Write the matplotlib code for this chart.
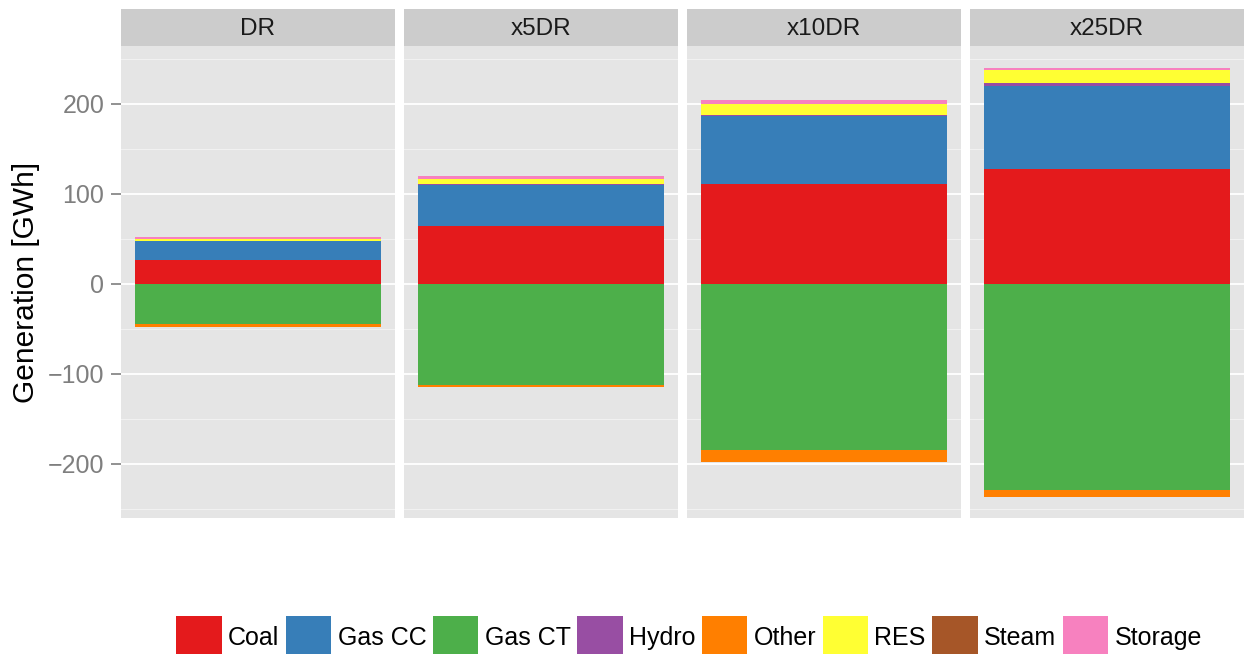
import numpy as np
import matplotlib.pyplot as plt
from matplotlib.patches import Patch

plt.rcParams['font.family'] = ['Liberation Sans', 'DejaVu Sans']

scenarios = ['DR', 'x5DR', 'x10DR', 'x25DR']
fuels = ['Coal', 'Gas CC', 'Gas CT', 'Hydro', 'Other', 'RES', 'Steam', 'Storage']
colors = ['#E41A1C', '#377EB8', '#4DAF4A', '#984EA3', '#FF7F00', '#FFFF33', '#A65628', '#F781BF']

# generation change per fuel, one value per scenario [GWh]
coal = [26.7, 64.8, 111.0, 128.0]
gas_cc = [21.1, 44.8, 75.7, 92.0]
gas_ct = [-44.8, -112.2, -184.4, -228.9]
hydro = [0.3, 1.0, 1.1, 3.7]
other = [-3.2, -2.6, -13.4, -7.4]
res = [2.3, 6.0, 11.8, 14.1]
steam = [0.0, 0.0, 0.0, 0.0]
storage = [2.2, 3.0, 4.8, 2.6]
series = [coal, gas_cc, gas_ct, hydro, other, res, steam, storage]

W, H = 1244, 654
fig = plt.figure(figsize=(W / 100, H / 100), dpi=100)

left, pw, gap = 121, 274, 9
ptop, pbot = 46, 518
stop = 9

for i, sc in enumerate(scenarios):
    x0 = left + i * (pw + gap)
    ax = fig.add_axes([x0 / W, 1 - pbot / H, pw / W, (pbot - ptop) / H])
    ax.set_facecolor('#E5E5E5')
    pos, neg = 0.0, 0.0
    for vals, c in zip(series, colors):
        v = vals[i]
        if v >= 0:
            ax.bar(0, v, bottom=pos, width=0.9, color=c, linewidth=0)
            pos += v
        else:
            ax.bar(0, v, bottom=neg, width=0.9, color=c, linewidth=0)
            neg += v
    ax.set_xlim(-0.5, 0.5)
    ax.set_ylim(-260.1, 264.3)
    ax.set_yticks([-200, -100, 0, 100, 200])
    ax.set_yticks([-250, -150, -50, 50, 150, 250], minor=True)
    ax.grid(True, which='major', axis='y', color='white', linewidth=1.3)
    ax.grid(True, which='minor', axis='y', color='#F2F2F2', linewidth=0.7)
    ax.set_axisbelow(True)
    ax.set_xticks([])
    for s in ax.spines.values():
        s.set_visible(False)
    ax.tick_params(axis='y', which='minor', length=0)
    if i == 0:
        ax.tick_params(axis='y', which='major', length=7, width=1.2,
                       color='#7F7F7F', labelcolor='#7F7F7F', labelsize=18, pad=5)
        ax.set_ylabel('Generation [GWh]', fontsize=21.5, labelpad=6)
    else:
        ax.tick_params(axis='y', which='major', length=0, labelleft=False)

    sax = fig.add_axes([x0 / W, 1 - ptop / H, pw / W, (ptop - stop) / H])
    sax.set_facecolor('#CCCCCC')
    sax.set_xticks([])
    sax.set_yticks([])
    for s in sax.spines.values():
        s.set_visible(False)
    sax.text(0.5, 0.45, sc, ha='center', va='center', fontsize=17.5,
             color='#1A1A1A', transform=sax.transAxes)

handles = [Patch(facecolor=c, edgecolor='none') for c in colors]
fig.legend(handles, fuels, loc='center', bbox_to_anchor=(689 / W, 1 - 637 / H),
           ncol=8, frameon=False, fontsize=18, handlelength=1.83, handleheight=2.25,
           handletextpad=0.25, columnspacing=0.25, borderpad=0)

plt.savefig('out.png', dpi=100)
